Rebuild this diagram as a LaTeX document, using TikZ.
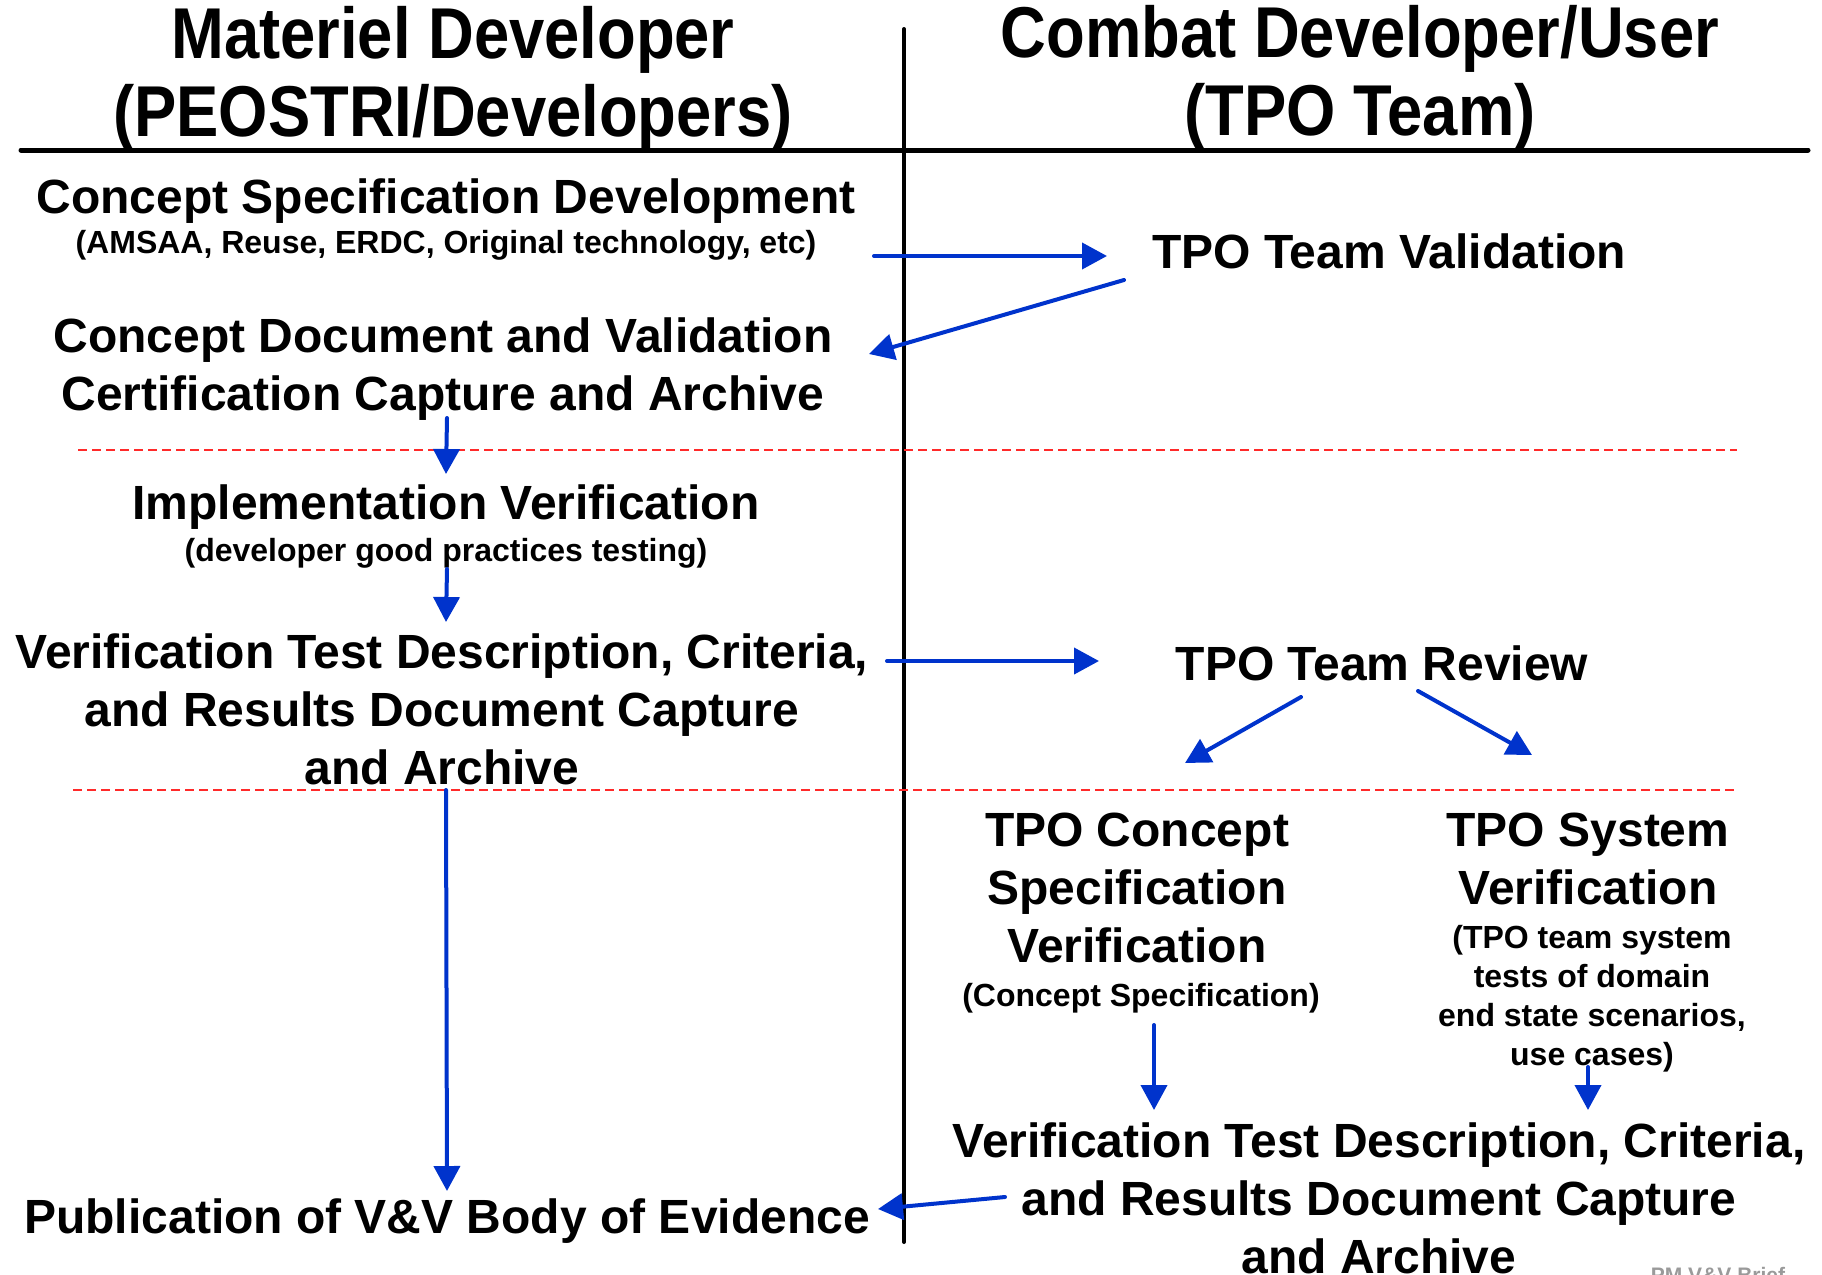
\documentclass[tikz,border=0pt]{standalone}
\usepackage{fontspec}
\setmainfont{Liberation Sans}
\newfontfamily\hdrfont{Liberation Sans}[FakeStretch=0.88]
\usetikzlibrary{arrows.meta}
\definecolor{arrblue}{HTML}{0033CC}
\definecolor{dashred}{HTML}{FF2A2A}
\definecolor{briefgray}{HTML}{9A9A9A}
\begin{document}
\begin{tikzpicture}[x=1pt,y=-1pt,
  hdr/.style={font=\hdrfont\bfseries\fontsize{72}{78}\selectfont, align=center, inner sep=0pt},
  body/.style={font=\bfseries\fontsize{48}{58}\selectfont, align=center, inner sep=0pt},
  sub/.style={font=\bfseries\fontsize{32}{39}\selectfont, align=center, inner sep=0pt},
  arr/.style={draw=arrblue, line width=4pt, line cap=round, -{Triangle[length=25pt,width=26pt]}},
  divider/.style={draw=dashred, line width=1.8pt, dash pattern=on 9pt off 5pt},
  rulebar/.style={draw=black, line width=5pt, line cap=round}]
\useasboundingbox[fill=white] (0,0) rectangle (1822,1274);

% frame lines
\coordinate (hl) at (21,150); \coordinate (hr) at (1808,150);
\coordinate (vt) at (904,29); \coordinate (vb) at (904,1242);
\draw[rulebar] (hl) -- (hr);
\draw[rulebar, line width=4pt] (vt) -- (vb);
\coordinate (d1l) at (78,450); \coordinate (d1r) at (1737,450);
\coordinate (d2l) at (73,790); \coordinate (d2r) at (1734,790);
\draw[divider] (d1l) -- (d1r);
\draw[divider] (d2l) -- (d2r);

% headers
\node[hdr, anchor=north] (hdrL) at (453,6) {Materiel Developer\\(PEOSTRI/Developers)};
\node[hdr, anchor=north] (hdrR) at (1360,5) {Combat Developer/User\\(TPO Team)};

% left column
\node[body, anchor=base] (csd) at (446,213) {Concept Specification Development};
\node[sub, anchor=base] (csdsub) at (446,253) {(AMSAA, Reuse, ERDC, Original technology, etc)};
\node[body, anchor=north] (cdoc) at (443,317.5) {Concept Document and Validation\\Certification Capture and Archive};
\node[body, anchor=base] (impl) at (446,519) {Implementation Verification};
\node[sub, anchor=base] (implsub) at (446,561) {(developer good practices testing)};
\node[body, anchor=north] (vtd) at (442,633.5) {Verification Test Description, Criteria,\\and Results Document Capture\\and Archive};
\node[body, anchor=base] (pub) at (447,1233) {Publication of V\&V Body of Evidence};

% right column
\node[body, anchor=base] (val) at (1389,268) {TPO Team Validation};
\node[body, anchor=base] (rev) at (1382,680) {TPO Team Review};
\node[body, anchor=north] (tcs) at (1137,812.5) {TPO Concept\\Specification\\Verification};
\node[sub, anchor=base] (tcssub) at (1141,1006) {(Concept Specification)};
\node[body, anchor=north] (tsv) at (1588,812.5) {TPO System\\Verification};
\node[sub, anchor=north] (tsvsub) at (1592,925) {(TPO team system\\tests of domain\\end state scenarios,\\use cases)};
\node[body, anchor=north] (vtd2) at (1379,1122.5) {Verification Test Description, Criteria,\\and Results Document Capture\\and Archive};
\node[font=\bfseries\fontsize{21}{25}\selectfont, text=briefgray, inner sep=0pt, anchor=base] (brief) at (1718,1282) {PM V\&V Brief};

% arrow end points
\coordinate (a1s) at (874,256);  \coordinate (a1e) at (1107,256);
\coordinate (a2s) at (1124,280); \coordinate (a2e) at (869,354);
\coordinate (a3s) at (447,418);  \coordinate (a3e) at (446,474);
\coordinate (a4s) at (447,569);  \coordinate (a4e) at (446,622);
\coordinate (a5s) at (887,661);  \coordinate (a5e) at (1099,661);
\coordinate (a6s) at (1301,697); \coordinate (a6e) at (1185,763);
\coordinate (a7s) at (1418,691); \coordinate (a7e) at (1532,755);
\coordinate (a8s) at (446,790);  \coordinate (a8e) at (447,1191);
\coordinate (a9s) at (1154,1025); \coordinate (a9e) at (1154,1110);
\coordinate (a10s) at (1588,1067); \coordinate (a10e) at (1588,1110);
\coordinate (a11s) at (1005,1197); \coordinate (a11e) at (878,1209);

\draw[arr] (a1s) -- (a1e);
\draw[arr] (a2s) -- (a2e);
\draw[arr] (a3s) -- (a3e);
\draw[arr] (a4s) -- (a4e);
\draw[arr] (a5s) -- (a5e);
\draw[arr] (a6s) -- (a6e);
\draw[arr] (a7s) -- (a7e);
\draw[arr] (a8s) -- (a8e);
\draw[arr] (a9s) -- (a9e);
\draw[arr] (a10s) -- (a10e);
\draw[arr] (a11s) -- (a11e);
\end{tikzpicture}
\end{document}
